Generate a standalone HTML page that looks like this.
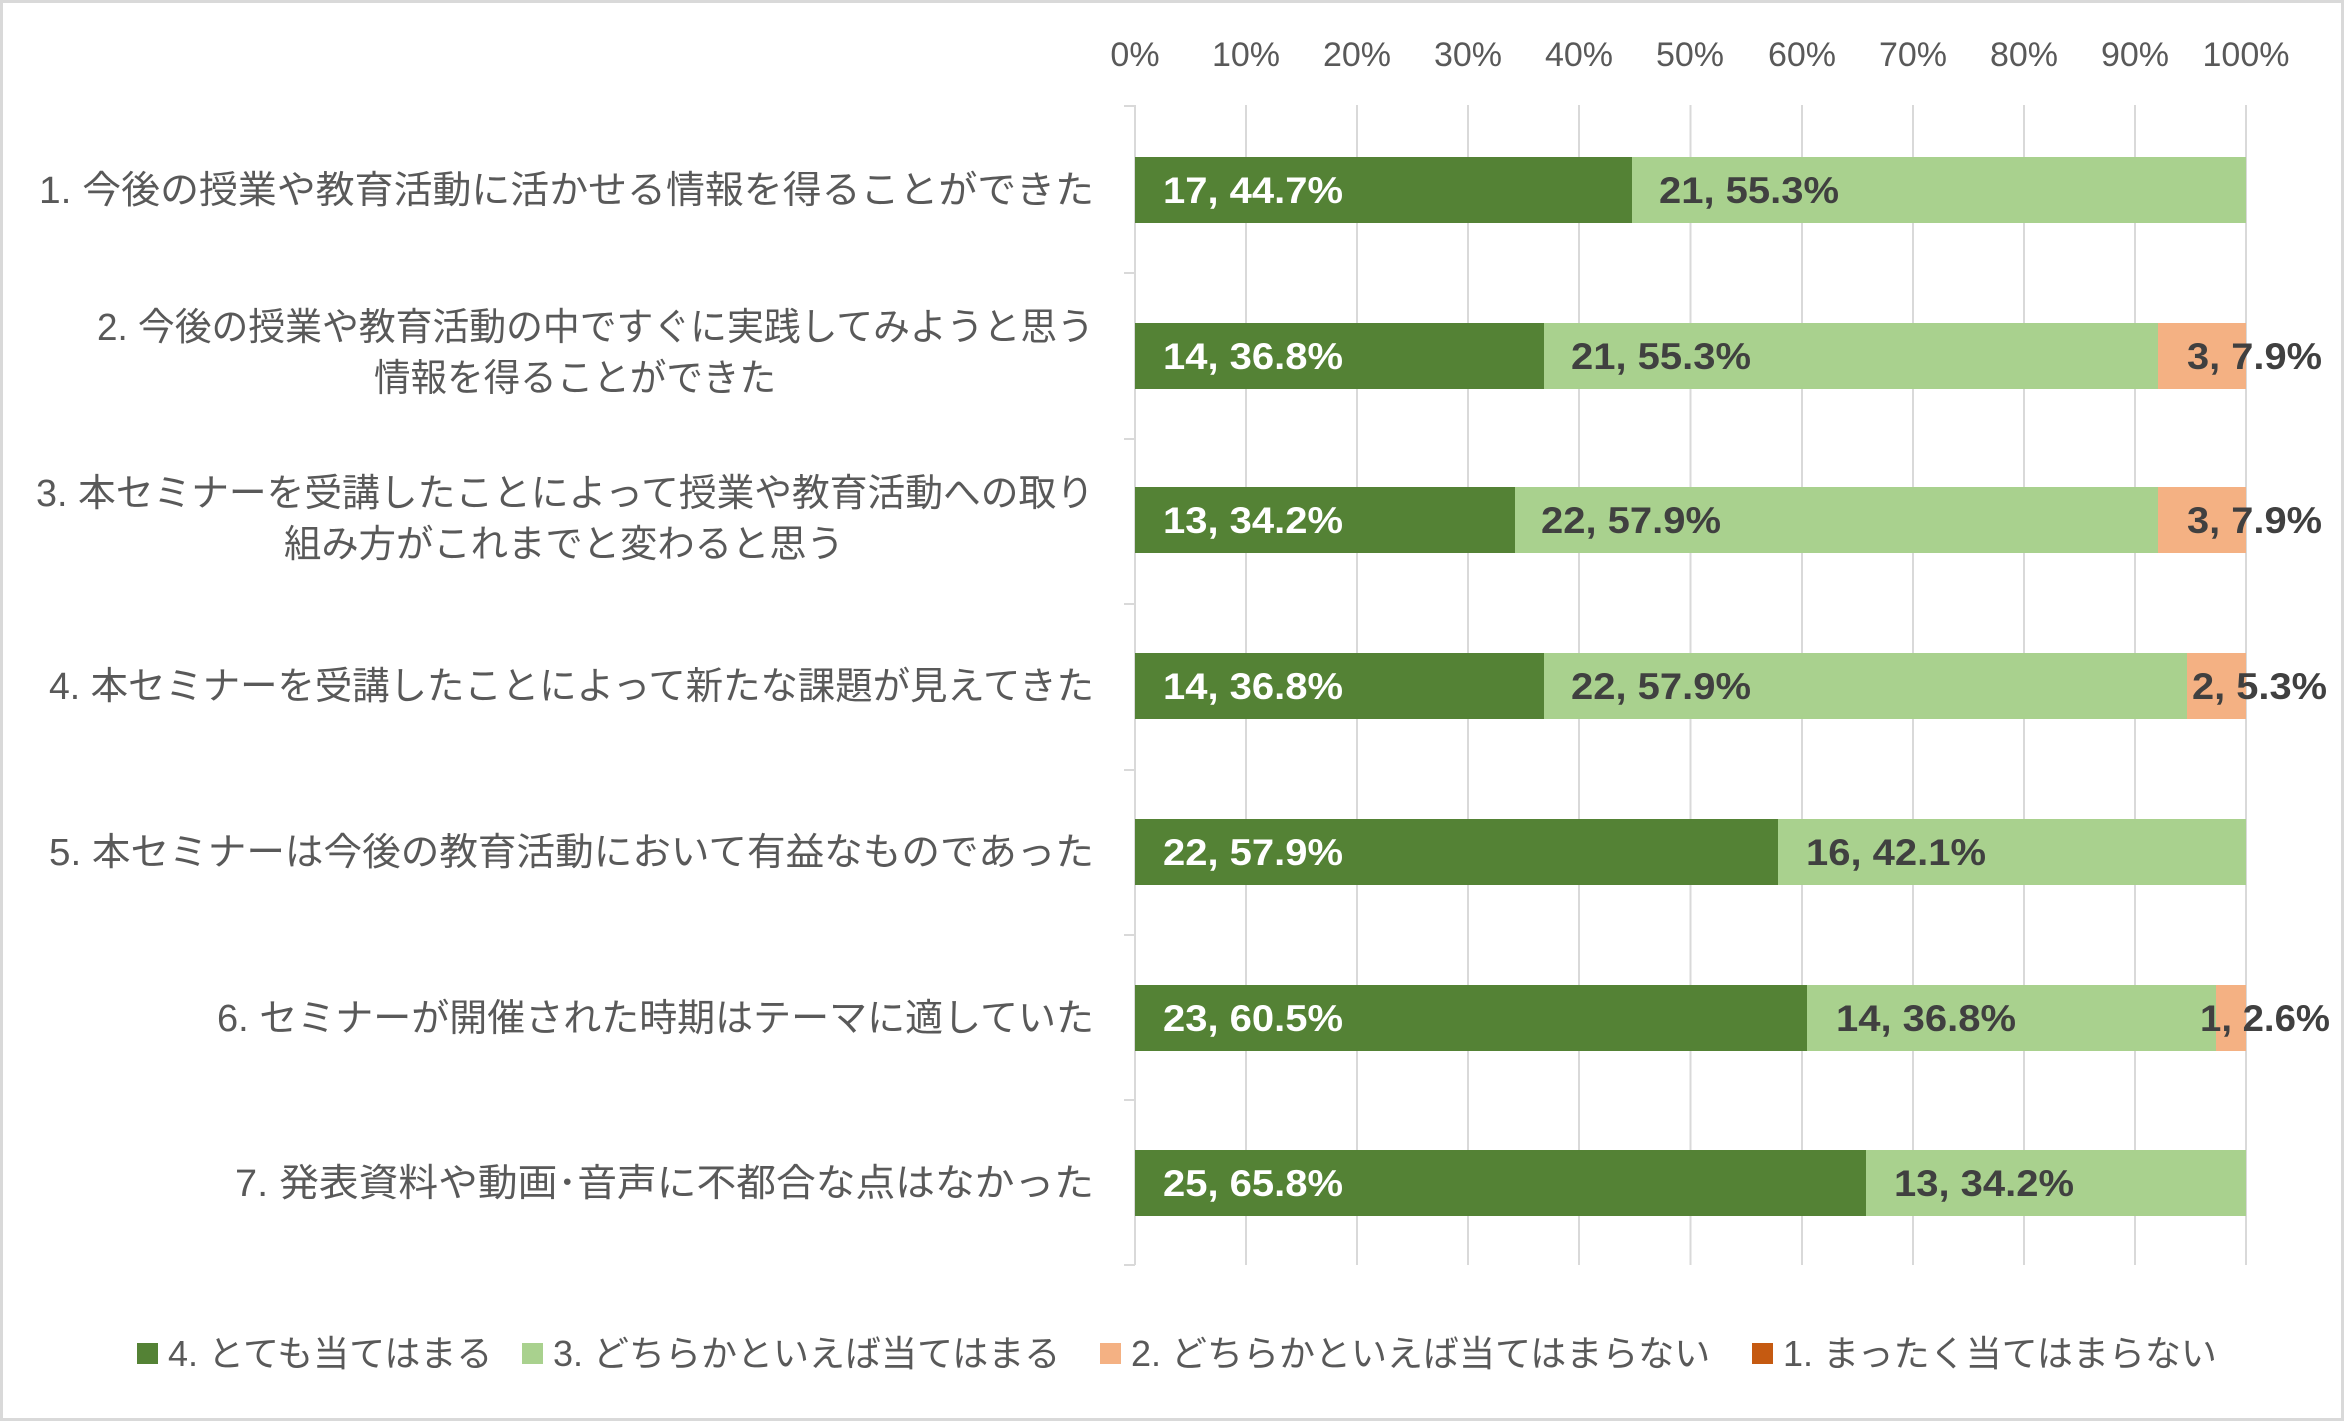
<!DOCTYPE html>
<html><head><meta charset="utf-8"><style>
html,body{margin:0;padding:0;background:#fff;}
svg{display:block;}
text{font-family:"Liberation Sans","Noto Sans CJK JP",sans-serif;}
.cat{font-size:38px;fill:#595959;}
.tick{font-size:34px;fill:#595959;}
.lw{font-size:37px;font-weight:bold;fill:#fff;}
.ld{font-size:37px;font-weight:bold;fill:#404040;}
.leg{font-size:36px;fill:#595959;}
</style></head><body>
<svg width="2344" height="1421" viewBox="0 0 2344 1421" xmlns="http://www.w3.org/2000/svg">
<rect x="1.5" y="1.5" width="2341" height="1418" fill="#fff" stroke="#d9d9d9" stroke-width="3"/>
<g stroke="#d9d9d9" stroke-width="2">
<line x1="1135" y1="105" x2="1135" y2="1265"/>
<line x1="1246" y1="105" x2="1246" y2="1265"/>
<line x1="1357" y1="105" x2="1357" y2="1265"/>
<line x1="1468" y1="105" x2="1468" y2="1265"/>
<line x1="1579" y1="105" x2="1579" y2="1265"/>
<line x1="1690.5" y1="105" x2="1690.5" y2="1265"/>
<line x1="1802" y1="105" x2="1802" y2="1265"/>
<line x1="1913" y1="105" x2="1913" y2="1265"/>
<line x1="2024" y1="105" x2="2024" y2="1265"/>
<line x1="2135" y1="105" x2="2135" y2="1265"/>
<line x1="2246" y1="105" x2="2246" y2="1265"/>
<line x1="1124" y1="106" x2="1135" y2="106"/>
<line x1="1124" y1="273" x2="1135" y2="273"/>
<line x1="1124" y1="439" x2="1135" y2="439"/>
<line x1="1124" y1="604" x2="1135" y2="604"/>
<line x1="1124" y1="770" x2="1135" y2="770"/>
<line x1="1124" y1="935" x2="1135" y2="935"/>
<line x1="1124" y1="1100" x2="1135" y2="1100"/>
<line x1="1124" y1="1265" x2="1135" y2="1265"/>
</g>
<g class="tick" text-anchor="middle">
<text x="1135" y="66">0%</text><text x="1246" y="66">10%</text><text x="1357" y="66">20%</text>
<text x="1468" y="66">30%</text><text x="1579" y="66">40%</text><text x="1690" y="66">50%</text>
<text x="1802" y="66">60%</text><text x="1913" y="66">70%</text><text x="2024" y="66">80%</text>
<text x="2135" y="66">90%</text><text x="2246" y="66">100%</text>
</g>
<g>
<rect x="1135" y="157" width="497" height="66" fill="#548235"/><rect x="1632" y="157" width="614" height="66" fill="#A9D18E"/>
<rect x="1135" y="323" width="409" height="66" fill="#548235"/><rect x="1544" y="323" width="614" height="66" fill="#A9D18E"/><rect x="2158" y="323" width="88" height="66" fill="#F4B183"/>
<rect x="1135" y="487" width="380" height="66" fill="#548235"/><rect x="1515" y="487" width="643" height="66" fill="#A9D18E"/><rect x="2158" y="487" width="88" height="66" fill="#F4B183"/>
<rect x="1135" y="653" width="409" height="66" fill="#548235"/><rect x="1544" y="653" width="643" height="66" fill="#A9D18E"/><rect x="2187" y="653" width="59" height="66" fill="#F4B183"/>
<rect x="1135" y="819" width="643" height="66" fill="#548235"/><rect x="1778" y="819" width="468" height="66" fill="#A9D18E"/>
<rect x="1135" y="985" width="672" height="66" fill="#548235"/><rect x="1807" y="985" width="409" height="66" fill="#A9D18E"/><rect x="2216" y="985" width="30" height="66" fill="#F4B183"/>
<rect x="1135" y="1150" width="731" height="66" fill="#548235"/><rect x="1866" y="1150" width="380" height="66" fill="#A9D18E"/>
</g>
<g>
<text class="lw" x="1163" y="203" textLength="180" lengthAdjust="spacingAndGlyphs">17, 44.7%</text><text class="ld" x="1659" y="203" textLength="180" lengthAdjust="spacingAndGlyphs">21, 55.3%</text>
<text class="lw" x="1163" y="369" textLength="180" lengthAdjust="spacingAndGlyphs">14, 36.8%</text><text class="ld" x="1571" y="369" textLength="180" lengthAdjust="spacingAndGlyphs">21, 55.3%</text><text class="ld" x="2187" y="369" textLength="135" lengthAdjust="spacingAndGlyphs">3, 7.9%</text>
<text class="lw" x="1163" y="533" textLength="180" lengthAdjust="spacingAndGlyphs">13, 34.2%</text><text class="ld" x="1541" y="533" textLength="180" lengthAdjust="spacingAndGlyphs">22, 57.9%</text><text class="ld" x="2187" y="533" textLength="135" lengthAdjust="spacingAndGlyphs">3, 7.9%</text>
<text class="lw" x="1163" y="699" textLength="180" lengthAdjust="spacingAndGlyphs">14, 36.8%</text><text class="ld" x="1571" y="699" textLength="180" lengthAdjust="spacingAndGlyphs">22, 57.9%</text><text class="ld" x="2192" y="699" textLength="135" lengthAdjust="spacingAndGlyphs">2, 5.3%</text>
<text class="lw" x="1163" y="865" textLength="180" lengthAdjust="spacingAndGlyphs">22, 57.9%</text><text class="ld" x="1806" y="865" textLength="180" lengthAdjust="spacingAndGlyphs">16, 42.1%</text>
<text class="lw" x="1163" y="1031" textLength="180" lengthAdjust="spacingAndGlyphs">23, 60.5%</text><text class="ld" x="1836" y="1031" textLength="180" lengthAdjust="spacingAndGlyphs">14, 36.8%</text><text class="ld" x="2200" y="1031" textLength="130" lengthAdjust="spacingAndGlyphs">1, 2.6%</text>
<text class="lw" x="1163" y="1196" textLength="180" lengthAdjust="spacingAndGlyphs">25, 65.8%</text><text class="ld" x="1894" y="1196" textLength="180" lengthAdjust="spacingAndGlyphs">13, 34.2%</text>
</g>
<g class="cat">
<text x="39" y="203" textLength="1055" lengthAdjust="spacingAndGlyphs">1. 今後の授業や教育活動に活かせる情報を得ることができた</text>
<text x="97" y="340" textLength="997" lengthAdjust="spacingAndGlyphs">2. 今後の授業や教育活動の中ですぐに実践してみようと思う</text>
<text x="374" y="391" textLength="402" lengthAdjust="spacingAndGlyphs">情報を得ることができた</text>
<text x="36" y="506" textLength="1058" lengthAdjust="spacingAndGlyphs">3. 本セミナーを受講したことによって授業や教育活動への取り</text>
<text x="284" y="557" textLength="560" lengthAdjust="spacingAndGlyphs">組み方がこれまでと変わると思う</text>
<text x="49" y="699" textLength="1045" lengthAdjust="spacingAndGlyphs">4. 本セミナーを受講したことによって新たな課題が見えてきた</text>
<text x="49" y="865" textLength="1045" lengthAdjust="spacingAndGlyphs">5. 本セミナーは今後の教育活動において有益なものであった</text>
<text x="217" y="1031" textLength="877" lengthAdjust="spacingAndGlyphs">6. セミナーが開催された時期はテーマに適していた</text>
<text x="235" y="1196" textLength="859" lengthAdjust="spacingAndGlyphs">7. 発表資料や動画･音声に不都合な点はなかった</text>
</g>
<g>
<rect x="137" y="1343" width="21" height="21" fill="#548235"/>
<text class="leg" x="168" y="1366">4. とても当てはまる</text>
<rect x="522" y="1343" width="21" height="21" fill="#A9D18E"/>
<text class="leg" x="553" y="1366">3. どちらかといえば当てはまる</text>
<rect x="1100" y="1343" width="21" height="21" fill="#F4B183"/>
<text class="leg" x="1131" y="1366">2. どちらかといえば当てはまらない</text>
<rect x="1752" y="1343" width="21" height="21" fill="#C55A11"/>
<text class="leg" x="1783" y="1366">1. まったく当てはまらない</text>
</g>
</svg>
</body></html>
